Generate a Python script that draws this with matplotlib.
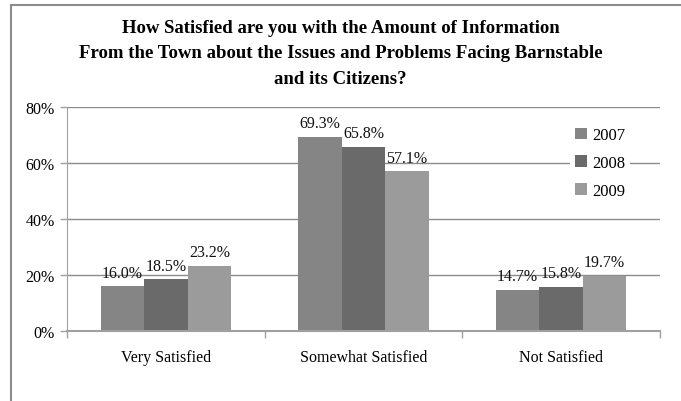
import numpy as np
import matplotlib
matplotlib.use("Agg")
import matplotlib.pyplot as plt
from matplotlib.lines import Line2D

# chart data
categories = ["Very Satisfied", "Somewhat Satisfied", "Not Satisfied"]
years = ["2007", "2008", "2009"]
v2007 = [16.0, 69.3, 14.7]
v2008 = [18.5, 65.8, 15.8]
v2009 = [23.2, 57.1, 19.7]
yticks = [0, 20, 40, 60, 80]

title = ("How Satisfied are you with the Amount of Information\n"
         "From the Town about the Issues and Problems Facing Barnstable\n"
         "and its Citizens?")

plt.rcParams['font.family'] = ['Liberation Serif', 'DejaVu Serif']

colors = ['#858585', '#6a6a6a', '#9b9b9b']
series = [v2007, v2008, v2009]

fig = plt.figure(figsize=(6.81, 4.02), dpi=100)
ax = fig.add_axes([67/681, 1 - 332/402, (660-67)/681, (332-108)/402])

# outer border (top and left only, like the source)
fig.add_artist(Line2D([11/681, 1], [1 - 6/402, 1 - 6/402], color='#8c8c8c', lw=1.5,
                      transform=fig.transFigure))
fig.add_artist(Line2D([11/681, 11/681], [0, 1 - 6/402], color='#8c8c8c', lw=1.5,
                      transform=fig.transFigure))

x = np.arange(len(categories))
w = 0.22
for i, (vals, c, yr) in enumerate(zip(series, colors, years)):
    pos = x + (i - 1) * w
    ax.bar(pos, vals, width=w, color=c, label=yr, zorder=2)
    for px, v in zip(pos, vals):
        ax.text(px, v + 2.0, f"{v:.1f}%", ha='center', va='bottom', fontsize=11.5, color='#111111')

ax.set_xlim(-0.5, 2.5)
ax.set_ylim(0, 80)
ax.set_yticks(yticks)
ax.set_yticklabels([f"{t}%" for t in yticks], fontsize=11.5)
ax.yaxis.grid(True, color='#8c8c8c', lw=1, zorder=0)
ax.set_axisbelow(True)

ax.set_xticks(x)
ax.set_xticklabels(categories, fontsize=11.5)
ax.tick_params(axis='x', length=0, pad=13)
ax.set_xticks([-0.5, 0.5, 1.5, 2.5], minor=True)
ax.tick_params(axis='x', which='minor', length=5, color='#a0a0a0', width=1)
ax.tick_params(axis='y', length=5, color='#a0a0a0', width=1, pad=4)

for s in ['top', 'right']:
    ax.spines[s].set_visible(False)
ax.spines['left'].set_color('#a0a0a0')
ax.spines['bottom'].set_color('#a0a0a0')
ax.spines['bottom'].set_linewidth(1.5)

leg = ax.legend(loc='upper left', bbox_to_anchor=(562/681, 1 - 115/402),
                bbox_transform=fig.transFigure, fontsize=12, frameon=True,
                facecolor='white', edgecolor='none', framealpha=1,
                handlelength=0.7, handleheight=0.7, handletextpad=0.3,
                labelspacing=0.7, borderpad=0.3, fancybox=False)

fig.text(0.5, 1 - 20/402, title, ha='center', va='top', fontsize=13.5,
         fontweight='bold', family='Liberation Serif', linespacing=1.65)

fig.savefig("out.png", dpi=100)
